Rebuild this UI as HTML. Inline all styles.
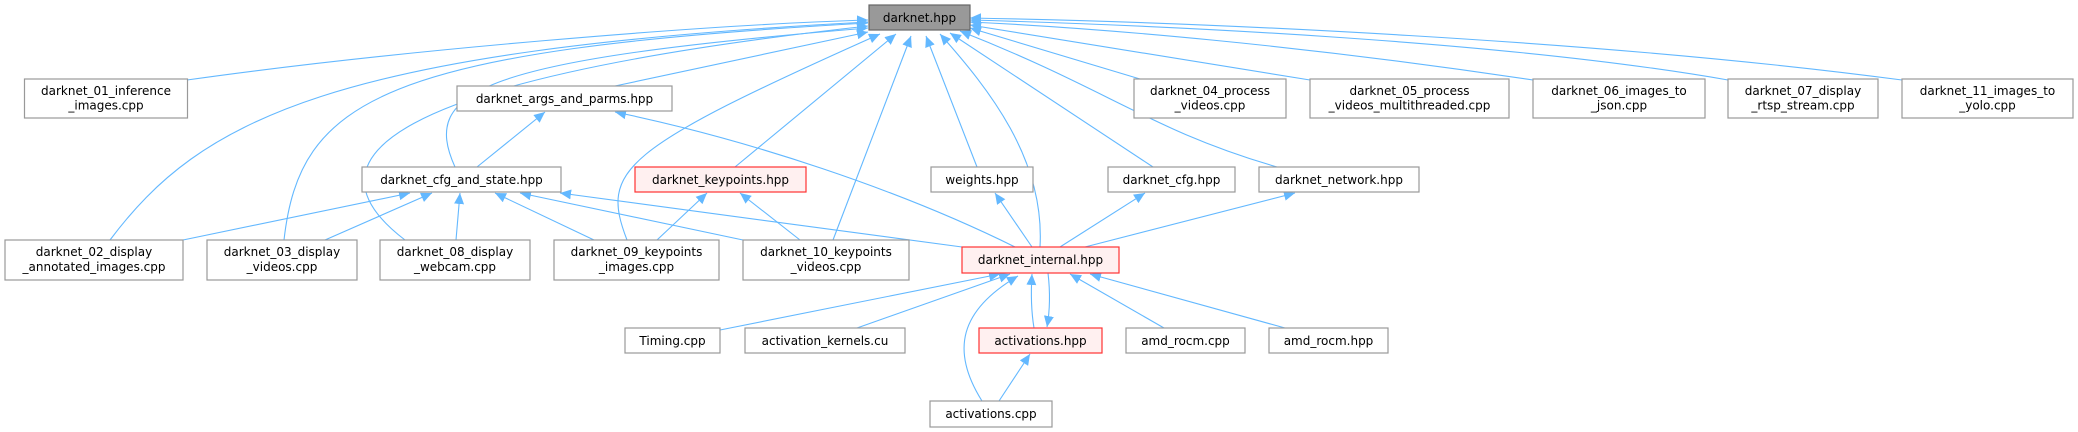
<!DOCTYPE html>
<html><head><meta charset="utf-8"><style>
html,body{margin:0;padding:0;background:#fff;}
svg{display:block;}
text{font-family:"DejaVu Sans","Liberation Sans",sans-serif;font-size:12px;fill:#000;}
.n{fill:#fff;stroke:#999;stroke-width:1.2;}
.r{fill:#fff0f0;stroke:#ff3333;stroke-width:1.2;}
.g{fill:#999;stroke:#666;stroke-width:1.2;}
.e{fill:none;stroke:#63b8ff;stroke-width:1.1;marker-end:url(#a);}
</style></head><body>
<svg width="2078" height="432" viewBox="0 0 2078 432" xmlns="http://www.w3.org/2000/svg">
<defs><marker id="a" markerUnits="userSpaceOnUse" markerWidth="12" markerHeight="10" refX="11" refY="5" orient="auto"><path d="M0,0 L11,5 L0,10 Z" fill="#63b8ff"/></marker></defs>
<!-- edges to darknet.hpp -->
<path class="e" d="M187,80 C400,50 700,25 868,20"/>
<path class="e" d="M110,240 C200,120 330,50 868,22"/>
<path class="e" d="M284,240 C300,100 380,50 868,23"/>
<path class="e" d="M405,240 C300,160 380,80 868,26"/>
<path class="e" d="M455,167 C420,90 480,60 868,28"/>
<path class="e" d="M627,240 C600,170 620,150 880,34"/>
<path class="e" d="M615,86 L868,32"/>
<path class="e" d="M735,167 L896,34"/>
<path class="e" d="M833,240 L911,36"/>
<path class="e" d="M977,167 L926,36"/>
<path class="e" d="M1040,247 C1045,160 990,90 940,34"/>
<path class="e" d="M1153,167 L950,33"/>
<path class="e" d="M1277,167 C1150,130 1110,90 960,31"/>
<path class="e" d="M1140,79 L970,28"/>
<path class="e" d="M1310,80 L970,25"/>
<path class="e" d="M1533,80 C1300,45 1100,28 970,22"/>
<path class="e" d="M1728,80 C1500,40 1150,25 970,20"/>
<path class="e" d="M1902,80 C1600,40 1200,22 970,18"/>
<!-- other edges -->
<path class="e" d="M477,167 L545,112"/>
<path class="e" d="M1015,247 C900,190 750,140 615,112"/>
<path class="e" d="M183,240 L410,193"/>
<path class="e" d="M325,240 L432,193"/>
<path class="e" d="M456,240 L460,193"/>
<path class="e" d="M594,240 L495,193"/>
<path class="e" d="M743,240 L520,193"/>
<path class="e" d="M962,247 L560,193"/>
<path class="e" d="M657,240 L707,193"/>
<path class="e" d="M800,240 L740,193"/>
<path class="e" d="M1032,247 L995,193"/>
<path class="e" d="M1060,247 L1145,193"/>
<path class="e" d="M1085,247 L1295,193"/>
<path class="e" d="M720,330 L1000,274"/>
<path class="e" d="M857,328 L1010,274"/>
<path class="e" d="M982,401 C950,350 960,310 1018,276"/>
<path class="e" d="M1034,328 C1031,310 1031,290 1032,274"/>
<path class="e" d="M1048,273 C1050,290 1050,310 1047,327"/>
<path class="e" d="M999,401 L1030,354"/>
<path class="e" d="M1164,328 L1070,274"/>
<path class="e" d="M1285,328 L1090,274"/>
<!-- nodes -->
<rect class="g" x="869" y="5" width="101" height="25"/><text x="919.5" y="22" text-anchor="middle">darknet.hpp</text>
<rect class="n" x="24.5" y="79" width="163" height="39"/><text x="106" y="95" text-anchor="middle">darknet_01_inference</text><text x="106" y="109.5" text-anchor="middle">_images.cpp</text>
<rect class="n" x="457" y="86" width="215" height="25"/><text x="564.5" y="103" text-anchor="middle">darknet_args_and_parms.hpp</text>
<rect class="n" x="362" y="167" width="199" height="25"/><text x="461.5" y="184" text-anchor="middle">darknet_cfg_and_state.hpp</text>
<rect class="r" x="635" y="167" width="171" height="25"/><text x="720.5" y="184" text-anchor="middle">darknet_keypoints.hpp</text>
<rect class="n" x="931" y="167" width="102" height="25"/><text x="982" y="184" text-anchor="middle">weights.hpp</text>
<rect class="n" x="1108" y="167" width="127" height="25"/><text x="1171.5" y="184" text-anchor="middle">darknet_cfg.hpp</text>
<rect class="n" x="1259" y="167" width="160" height="25"/><text x="1339" y="184" text-anchor="middle">darknet_network.hpp</text>
<rect class="n" x="1134" y="79" width="152" height="39"/><text x="1210" y="95" text-anchor="middle">darknet_04_process</text><text x="1210" y="109.5" text-anchor="middle">_videos.cpp</text>
<rect class="n" x="1310" y="79" width="199" height="39"/><text x="1409.5" y="95" text-anchor="middle">darknet_05_process</text><text x="1409.5" y="109.5" text-anchor="middle">_videos_multithreaded.cpp</text>
<rect class="n" x="1533" y="79" width="172" height="39"/><text x="1619" y="95" text-anchor="middle">darknet_06_images_to</text><text x="1619" y="109.5" text-anchor="middle">_json.cpp</text>
<rect class="n" x="1728" y="79" width="150" height="39"/><text x="1803" y="95" text-anchor="middle">darknet_07_display</text><text x="1803" y="109.5" text-anchor="middle">_rtsp_stream.cpp</text>
<rect class="n" x="1902" y="79" width="171" height="39"/><text x="1987.5" y="95" text-anchor="middle">darknet_11_images_to</text><text x="1987.5" y="109.5" text-anchor="middle">_yolo.cpp</text>
<rect class="n" x="5" y="240" width="178" height="40"/><text x="94" y="256" text-anchor="middle">darknet_02_display</text><text x="94" y="271" text-anchor="middle">_annotated_images.cpp</text>
<rect class="n" x="207" y="240" width="150" height="40"/><text x="282" y="256" text-anchor="middle">darknet_03_display</text><text x="282" y="271" text-anchor="middle">_videos.cpp</text>
<rect class="n" x="380" y="240" width="150" height="40"/><text x="455" y="256" text-anchor="middle">darknet_08_display</text><text x="455" y="271" text-anchor="middle">_webcam.cpp</text>
<rect class="n" x="554" y="240" width="165" height="40"/><text x="636.5" y="256" text-anchor="middle">darknet_09_keypoints</text><text x="636.5" y="271" text-anchor="middle">_images.cpp</text>
<rect class="n" x="743" y="240" width="166" height="40"/><text x="826" y="256" text-anchor="middle">darknet_10_keypoints</text><text x="826" y="271" text-anchor="middle">_videos.cpp</text>
<rect class="r" x="962" y="247" width="157" height="26"/><text x="1040.5" y="264" text-anchor="middle">darknet_internal.hpp</text>
<rect class="n" x="625" y="328" width="95" height="25"/><text x="672.5" y="345" text-anchor="middle">Timing.cpp</text>
<rect class="n" x="745" y="328" width="160" height="25"/><text x="825" y="345" text-anchor="middle">activation_kernels.cu</text>
<rect class="r" x="979" y="328" width="123" height="25"/><text x="1040.5" y="345" text-anchor="middle">activations.hpp</text>
<rect class="n" x="1126" y="328" width="119" height="25"/><text x="1185.5" y="345" text-anchor="middle">amd_rocm.cpp</text>
<rect class="n" x="1269" y="328" width="119" height="25"/><text x="1328.5" y="345" text-anchor="middle">amd_rocm.hpp</text>
<rect class="n" x="930" y="401" width="122" height="26"/><text x="991" y="418" text-anchor="middle">activations.cpp</text>
</svg>
</body></html>
